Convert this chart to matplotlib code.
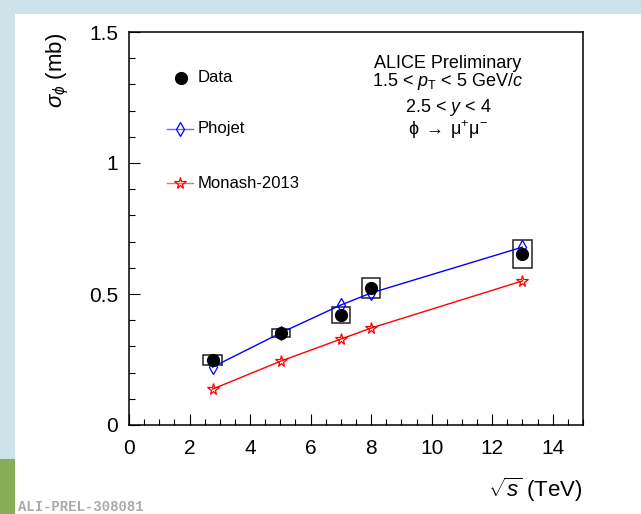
import matplotlib
matplotlib.use("Agg")
import matplotlib.pyplot as plt
from matplotlib.lines import Line2D
from matplotlib.patches import Rectangle
import numpy as np

plt.rcParams['font.family'] = ['Liberation Sans', 'DejaVu Sans']
plt.rcParams['mathtext.fontset'] = 'custom'
plt.rcParams['mathtext.rm'] = 'Liberation Sans'
plt.rcParams['mathtext.it'] = 'Liberation Sans:italic'
plt.rcParams['mathtext.sf'] = 'Liberation Sans'

# ---- data ----
energies = [2.76, 5.02, 7.0, 8.0, 13.0]
data_sigma = [0.248, 0.351, 0.420, 0.523, 0.653]
data_stat = [0.012, 0.010, 0.018, 0.018, 0.015]
data_syst = [0.019, 0.015, 0.029, 0.038, 0.052]
phojet_sigma = [0.221, 0.352, 0.458, 0.504, 0.679]
monash_sigma = [0.137, 0.244, 0.328, 0.370, 0.550]
x_ticks = [0, 2, 4, 6, 8, 10, 12, 14]
y_ticks = [0, 0.5, 1, 1.5]
y_ticklabels = ['0', '0.5', '1', '1.5']

W, H = 641, 514
fig = plt.figure(figsize=(W / 100, H / 100), dpi=100)
fig.patch.set_facecolor('white')

# slide background bands
blue_bg = '#cde3ea'
green_bg = '#86ad5a'
fig.patches.append(Rectangle((0, 1 - 14 / H), 1, 14 / H, transform=fig.transFigure,
                             facecolor=blue_bg, edgecolor='none', zorder=0))
fig.patches.append(Rectangle((0, 1 - 459 / H), 15 / W, 459 / H, transform=fig.transFigure,
                             facecolor=blue_bg, edgecolor='none', zorder=0))
fig.patches.append(Rectangle((0, 0), 15 / W, 1 - 459 / H, transform=fig.transFigure,
                             facecolor=green_bg, edgecolor='none', zorder=0))

ax = fig.add_axes([129 / W, 1 - 425 / H, 454 / W, 393 / H])
ax.set_xlim(0, 15)
ax.set_ylim(0, 1.5)

# systematic boxes
ax.bar(energies, [2 * s for s in data_syst],
       bottom=[v - s for v, s in zip(data_sigma, data_syst)],
       width=0.6, fill=False, edgecolor='#222222', linewidth=1.1, zorder=2)

ax.plot(energies, phojet_sigma, color='#0000ff', lw=1.0, marker='d', ms=7.5,
        mfc='none', mec='#0000ff', mew=0.9, zorder=3)
ax.plot(energies, monash_sigma, color='#ff0000', lw=1.0, marker='*', ms=8.5,
        mfc='none', mec='#ff0000', mew=0.9, zorder=3)
ax.errorbar(energies, data_sigma, yerr=data_stat, fmt='o', color='black',
            ms=8.5, elinewidth=1.0, capsize=0, zorder=4)

ax.set_xticks(x_ticks)
ax.set_xticklabels([str(t) for t in x_ticks])
ax.set_yticks(y_ticks)
ax.set_yticklabels(y_ticklabels)
ax.set_xticks(np.arange(0, 15.01, 0.5), minor=True)
ax.set_yticks(np.arange(0, 1.501, 0.1), minor=True)
ax.tick_params(axis='both', which='major', direction='in', length=8, width=0.8,
               labelsize=15, top=False, right=False)
ax.tick_params(axis='both', which='minor', direction='in', length=4, width=0.8,
               top=False, right=False)
ax.tick_params(axis='x', which='major', pad=10)
ax.tick_params(axis='y', which='major', pad=8)
for sp in ax.spines.values():
    sp.set_linewidth(1.1)

# axis titles
fig.text(58 / W, 1 - 33 / H, r'$\sigma_{\phi}$ (mb)', rotation=90, ha='center',
         va='top', fontsize=16)
fig.text(583 / W, 1 - 490 / H, r'$\sqrt{s}$ (TeV)', ha='right', va='center',
         fontsize=16)

# legend (manual)
def fx(px):
    return px / W

def fy(py):
    return 1 - py / H

fig.lines.append(Line2D([fx(181)], [fy(78)], marker='o', ms=8.5, color='black',
                        transform=fig.transFigure, ls='none'))
fig.text(fx(198), fy(78), 'Data', ha='left', va='center', fontsize=12)
fig.lines.append(Line2D([fx(167), fx(193)], [fy(129), fy(129)], color='#6a6aff', lw=1.0,
                        transform=fig.transFigure))
fig.lines.append(Line2D([fx(180)], [fy(129)], marker='d', ms=7.5, mfc='none', mec='#0000ff',
                        mew=0.9, transform=fig.transFigure, ls='none'))
fig.text(fx(198), fy(129), 'Phojet', ha='left', va='center', fontsize=12)
fig.lines.append(Line2D([fx(167), fx(193)], [fy(183), fy(183)], color='#ff6a6a', lw=1.0,
                        transform=fig.transFigure))
fig.lines.append(Line2D([fx(180)], [fy(183)], marker='*', ms=8.5, mfc='none', mec='#ff0000',
                        mew=0.9, transform=fig.transFigure, ls='none'))
fig.text(fx(198), fy(183), 'Monash-2013', ha='left', va='center', fontsize=12)

# annotation block
cx = fx(448)
fig.text(cx, fy(63), 'ALICE Preliminary', ha='center', va='center', fontsize=13)
fig.text(cx, fy(82), r'1.5 < $p_{\mathrm{T}}$ < 5 GeV/$c$', ha='center', va='center', fontsize=13)
fig.text(cx, fy(107), r'2.5 < $y$ < 4', ha='center', va='center', fontsize=13)
fig.text(cx, fy(130), r'$\mathrm{\phi\;\rightarrow\;\mu^{+}\mu^{-}}$', ha='center',
         va='center', fontsize=13)

# watermark
fig.text(fx(18), fy(507), 'ALI-PREL-308081', ha='left', va='center', fontsize=10,
         family=['Liberation Mono', 'DejaVu Sans Mono'], weight='bold', color='#aaaaaa')

fig.savefig('out.png', dpi=100)
